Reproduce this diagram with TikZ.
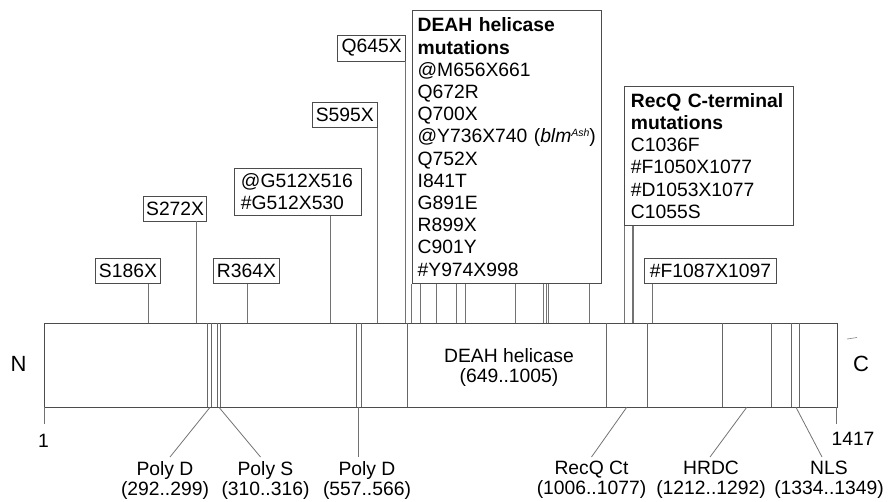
\documentclass[tikz,border=0pt]{standalone}
\usepackage{fontspec}
\setmainfont{Liberation Sans}
\begin{document}
\begin{tikzpicture}[x=1pt,y=-1pt,
  txt/.style={font=\fontsize{19.3}{20}\selectfont, inner sep=0pt},
  mbox/.style={draw=black!70, line width=0.9pt, inner sep=0pt, minimum height=25pt, anchor=north west, font=\fontsize{19.3}{22.2}\selectfont},
  bigbox/.style={mbox, align=left, inner xsep=5.5pt},
  conn/.style={draw=black!55, line width=0.8pt},
  seg/.style={draw=black!60, line width=0.8pt},
  bot/.style={font=\fontsize{19.3}{20}\selectfont, align=center, anchor=north, inner xsep=0pt, inner ysep=4pt},
  endlbl/.style={font=\fontsize{22}{24}\selectfont, inner sep=0pt}
]
\useasboundingbox (0,0) rectangle (891,501);

% protein bar
\node[draw=black!70, line width=0.9pt, anchor=north west, minimum width=793pt, minimum height=84pt, inner sep=0pt] (bar) at (44,323.3) {};
\foreach \x in {207.7,211,217.3,220.7,356.7,361,407.3,606.5,647,722.7,771.7,791.7,799.3}
  \draw[seg] (\x,323.3) -- (\x,407.3);
\node[txt, align=center] (deahlbl) at (509,367) {DEAH helicase\\(649..1005)};

% ends
\node[endlbl] (nterm) at (18.5,363.5) {N};
\node[endlbl] (cterm) at (861,363.5) {C};
\draw[black!50, line width=0.6pt] (847,339) -- (857,337.5);
\coordinate (t1) at (44,407.3);
\coordinate (t1417) at (836.7,407.3);
\draw[conn] (t1) -- ++(0,17);
\draw[conn] (t1417) -- ++(0,17);
\node[txt] (one) at (43.5,441) {1};
\node[txt] (last) at (853,439) {1417};

% single mutation boxes
\node[mbox, minimum width=64.4pt] (s186) at (95.3,258.3) {S186X};
\node[mbox, minimum width=62.7pt] (s272) at (143.3,195.5) {S272X};
\node[mbox, minimum width=66.6pt] (r364) at (212.7,258.3) {R364X};
\node[bigbox, inner xsep=6.5pt, text width=113.7pt, minimum height=47.3pt] (g512) at (234,167.7) {@G512X516\\\#G512X530};
\node[mbox, minimum width=64.7pt] (s595) at (312,102.3) {S595X};
\node[mbox, minimum width=67.7pt, minimum height=26pt] (q645) at (337.3,34.5) {Q645X};
\node[mbox, minimum width=131.4pt] (f1087) at (644.3,257.7) {\#F1087X1097};

\node[bigbox, text width=178.5pt, minimum height=273.3pt] (deah) at (411.7,10)
  {\textbf{DEAH helicase}\\\textbf{mutations}\\@M656X661\\Q672R\\Q700X\\\makebox[0pt][l]{@Y736X740 (\textit{blm}\raisebox{6.5pt}{\fontsize{10.5}{11}\selectfont\textit{Ash}})}\\Q752X\\I841T\\G891E\\R899X\\C901Y\\\#Y974X998};
\node[bigbox, inner xsep=6.5pt, text width=156.3pt, minimum height=139pt] (recq) at (624,86)
  {\textbf{RecQ C-terminal}\\\textbf{mutations}\\C1036F\\\#F1050X1077\\\#D1053X1077\\C1055S};

% connectors from mutation boxes to the bar
\draw[conn] (148,323.3) -- (148,323.3 |- s186.south);
\draw[conn] (196.7,323.3) -- (196.7,323.3 |- s272.south);
\draw[conn] (247.7,323.3) -- (247.7,323.3 |- r364.south);
\draw[conn] (330.7,323.3) -- (330.7,323.3 |- g512.south);
\draw[conn] (377.2,323.3) -- (377.2,323.3 |- s595.south);
\draw[conn] (405.7,323.3) -- (405.7,323.3 |- q645.south);
\foreach \x in {411.7,420.7,436,456.7,465.3,515,543.3,546.7,548,589.3}
  \draw[conn] (\x,323.3) -- (\x,323.3 |- deah.south);
\foreach \x in {624,632,633.7}
  \draw[conn] (\x,323.3) -- (\x,323.3 |- recq.south);
\draw[conn] (652.3,323.3) -- (652.3,323.3 |- f1087.south);

% domain labels below
\node[bot] (pd1) at (165,457) {Poly D\\(292..299)};
\node[bot] (ps) at (265.5,457) {Poly S\\(310..316)};
\node[bot] (pd2) at (367,457) {Poly D\\(557..566)};
\node[bot] (rqct) at (591.5,457) {RecQ Ct\\(1006..1077)};
\node[bot] (hrdc) at (711,457) {HRDC\\(1212..1292)};
\node[bot] (nls) at (829,457) {NLS\\(1334..1349)};

\draw[conn] (210,407.3) -- ([xshift=5pt]pd1.north);
\draw[conn] (219,407.3) -- ([xshift=-5pt]ps.north);
\draw[conn] (358.3,407.3) -- (358.3,407.3 |- pd2.north);
\draw[conn] (626.7,407.3) -- (rqct.north);
\draw[conn] (746.7,407.3) -- ([xshift=-1pt]hrdc.north);
\draw[conn] (796,407.3) -- ([xshift=-7pt]nls.north);
\end{tikzpicture}
\end{document}
